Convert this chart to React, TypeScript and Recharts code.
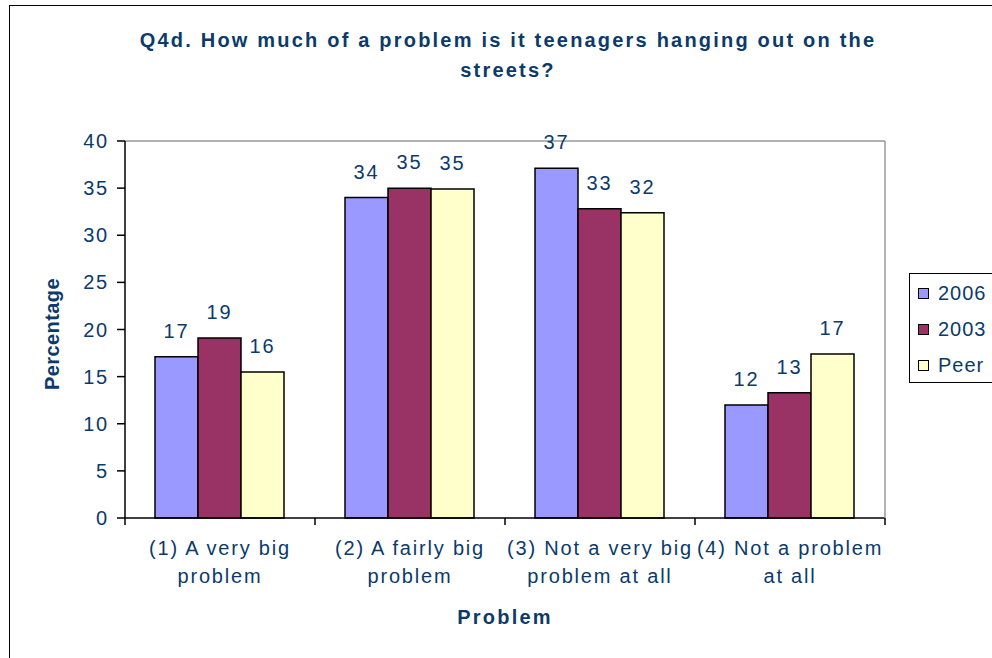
import React from 'react';
import { BarChart, Bar, XAxis, YAxis, LabelList, CartesianGrid } from 'recharts';

// values
const categories = [
  '(1) A very big problem',
  '(2) A fairly big problem',
  '(3) Not a very big problem at all',
  '(4) Not a problem at all',
];
const categoryLines = [
  ['(1) A very big', 'problem'],
  ['(2) A fairly big', 'problem'],
  ['(3) Not a very big', 'problem at all'],
  ['(4) Not a problem', 'at all'],
];
const series2006 = [17.1, 34.0, 37.1, 12.0];
const series2003 = [19.1, 35.0, 32.8, 13.3];
const seriesPeer = [15.5, 34.9, 32.4, 17.4];
const yTicks = [0, 5, 10, 15, 20, 25, 30, 35, 40];

const seriesList = [
  { key: 'y2006', name: '2006', color: '#9999FF' },
  { key: 'y2003', name: '2003', color: '#993366' },
  { key: 'peer', name: 'Peer', color: '#FFFFCC' },
];

const data = categories.map((c, i) => ({
  cat: c,
  y2006: series2006[i],
  y2003: series2003[i],
  peer: seriesPeer[i],
}));

const NAVY = '#0B3A6B';
const FONT = '"Liberation Sans", Arial, sans-serif';
const FS = 20;
const LS = 1.8;

// label in two lines, plus Excel-style tick marks on the category boundaries
function CategoryTick(props: any) {
  const { x, y, index, payload, width, visibleTicksCount } = props;
  const lines = categoryLines[index] || [];
  const half =
    payload && payload.offset ? payload.offset : width / (visibleTicksCount || categories.length) / 2;
  const last = index === categories.length - 1;
  return (
    <g>
      <line x1={x - half} x2={x - half} y1={y} y2={y + 7} stroke="#000" strokeWidth={1.5} />
      {last && <line x1={x + half} x2={x + half} y1={y} y2={y + 7} stroke="#000" strokeWidth={1.5} />}
      <text x={x} y={y} textAnchor="middle" fill={NAVY} fontSize={FS} fontFamily={FONT} letterSpacing={LS}>
        {lines.map((l, i) => (
          <tspan key={i} x={x} y={y + 37 + i * 28}>
            {l}
          </tspan>
        ))}
      </text>
    </g>
  );
}

export default function App() {
  return (
    <div
      style={{
        position: 'absolute',
        left: 0,
        top: 0,
        width: 992,
        height: 658,
        overflow: 'hidden',
        background: '#fff',
        fontFamily: FONT,
      }}
    >
      <div
        style={{
          position: 'absolute',
          left: 9,
          top: 5,
          width: 1100,
          height: 700,
          border: '1px solid #000',
        }}
      />
      <div
        style={{
          position: 'absolute',
          left: 108,
          top: 25,
          width: 800,
          textAlign: 'center',
          fontSize: 20,
          fontWeight: 'bold',
          lineHeight: '30px',
          letterSpacing: 2.2,
          color: NAVY,
        }}
      >
        Q4d. How much of a problem is it teenagers hanging out on the
        <br />
        streets?
      </div>
      <div
        style={{
          position: 'absolute',
          left: 52,
          top: 334,
          transform: 'translate(-50%, -50%) rotate(-90deg)',
          fontSize: 20,
          fontWeight: 'bold',
          letterSpacing: 0.4,
          color: NAVY,
          whiteSpace: 'nowrap',
        }}
      >
        Percentage
      </div>
      <div
        style={{
          position: 'absolute',
          left: 505,
          top: 617,
          transform: 'translate(-50%, -50%)',
          fontSize: 20,
          fontWeight: 'bold',
          letterSpacing: 2.2,
          color: NAVY,
          whiteSpace: 'nowrap',
        }}
      >
        Problem
      </div>

      <div style={{ position: 'absolute', left: 0, top: 0 }}>
        <BarChart
          width={992}
          height={658}
          data={data}
          margin={{ top: 141, right: 106, left: 65, bottom: 60 }}
          barCategoryGap={30}
          barGap={0}
        >
          {/* grey frame line along the top of the plot area */}
          <CartesianGrid vertical={false} horizontalValues={[40]} stroke="#999" strokeWidth={1.5} />
          <XAxis
            dataKey="cat"
            height={80}
            stroke="#000"
            strokeWidth={1.5}
            tickLine={false}
            tickSize={0}
            tickMargin={0}
            interval={0}
            tick={<CategoryTick />}
          />
          <YAxis
            domain={[0, 40]}
            ticks={yTicks}
            width={60}
            tickSize={8}
            tickMargin={8}
            stroke="#000"
            strokeWidth={1.5}
            tick={{ fill: NAVY, fontSize: FS, fontFamily: FONT, letterSpacing: LS }}
          />
          {/* grey frame line on the right */}
          <YAxis
            yAxisId="right"
            orientation="right"
            domain={[0, 40]}
            width={1}
            tick={false}
            tickLine={false}
            stroke="#999"
            strokeWidth={1.5}
          />
          {seriesList.map((s) => (
            <Bar
              key={s.key}
              dataKey={s.key}
              name={s.name}
              fill={s.color}
              stroke="#000"
              strokeWidth={1.5}
              isAnimationActive={false}
            >
              <LabelList
                dataKey={s.key}
                position="top"
                offset={19}
                formatter={(v: any) => Math.round(Number(v))}
                fill={NAVY}
                fontSize={FS}
                fontFamily={FONT}
                letterSpacing={LS}
              />
            </Bar>
          ))}
        </BarChart>
      </div>

      <div
        style={{
          position: 'absolute',
          left: 909,
          top: 273,
          width: 90,
          height: 110,
          border: '1px solid #000',
          boxSizing: 'border-box',
        }}
      >
        {seriesList.map((s, i) => (
          <div
            key={s.key}
            style={{
              position: 'absolute',
              left: 8,
              top: 7 + i * 36,
              height: 24,
              display: 'flex',
              alignItems: 'center',
              fontSize: FS,
              letterSpacing: 1,
              color: NAVY,
              whiteSpace: 'nowrap',
            }}
          >
            <span
              style={{
                display: 'inline-block',
                width: 9,
                height: 9,
                background: s.color,
                border: '1.5px solid #000',
                marginRight: 9,
              }}
            />
            {s.name}
          </div>
        ))}
      </div>
    </div>
  );
}
